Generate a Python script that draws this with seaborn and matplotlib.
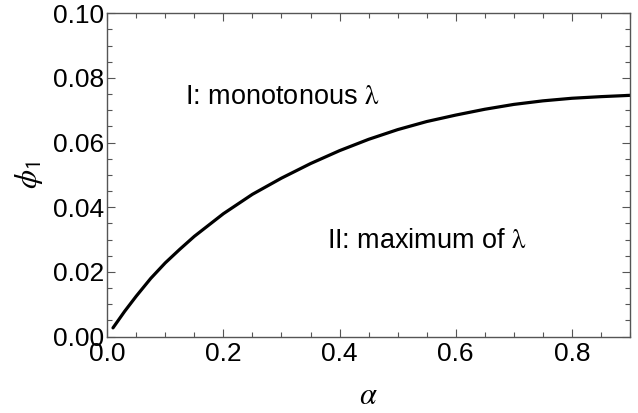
import matplotlib
matplotlib.use("Agg")
import matplotlib.pyplot as plt
import seaborn as sns
import pandas as pd
from matplotlib.ticker import MultipleLocator, FormatStrFormatter

alpha = [0.01, 0.03, 0.05, 0.075, 0.1, 0.125, 0.15, 0.2, 0.25, 0.3, 0.35, 0.4, 0.45, 0.5,
         0.55, 0.6, 0.65, 0.7, 0.75, 0.8, 0.85, 0.9]
phi1 = [0.0027, 0.0078, 0.0125, 0.018, 0.0228, 0.027, 0.031, 0.038, 0.044, 0.049,
        0.0535, 0.0575, 0.061, 0.064, 0.0665, 0.0685, 0.0703, 0.0718, 0.0729,
        0.0737, 0.0742, 0.0746]

sns.set_theme(style="ticks")
plt.rcParams['font.family'] = ['Liberation Sans', 'DejaVu Sans']
plt.rcParams['mathtext.fontset'] = 'stix'
plt.rcParams['text.color'] = 'black'
plt.rcParams['axes.labelcolor'] = 'black'

df = pd.DataFrame({"alpha": alpha, "phi1": phi1})

fig = plt.figure(figsize=(6.38, 4.13), dpi=100)
ax = fig.add_axes([0.168, 0.185, 0.8195, 0.783])
sns.lineplot(data=df, x="alpha", y="phi1", ax=ax, color="black", linewidth=2.3)

ax.set_xlim(0, 0.9)
ax.set_ylim(0, 0.10)
ax.xaxis.set_major_locator(MultipleLocator(0.2))
ax.xaxis.set_minor_locator(MultipleLocator(0.05))
ax.yaxis.set_major_locator(MultipleLocator(0.02))
ax.yaxis.set_minor_locator(MultipleLocator(0.005))
ax.xaxis.set_major_formatter(FormatStrFormatter('%.1f'))
ax.yaxis.set_major_formatter(FormatStrFormatter('%.2f'))

ax.tick_params(which='both', direction='in', top=True, right=True,
               color='#555555', width=0.8)
ax.tick_params(which='major', length=6, labelsize=19, labelcolor='black')
ax.tick_params(axis='y', which='major', pad=2)
ax.tick_params(axis='x', which='major', pad=4)
ax.tick_params(which='minor', length=3.5)
for s in ax.spines.values():
    s.set_visible(True)
    s.set_color('#555555')
    s.set_linewidth(1.0)

ax.set_xlabel(r'$\alpha$', fontsize=22, labelpad=11)
ax.set_ylabel(r'$\phi_\mathsf{1}$', fontsize=22, labelpad=6)

ax.text(0.302, 0.074, r'I: monotonous $\mathrm{\lambda}$', fontsize=19.5,
        ha='center', va='center')
ax.text(0.551, 0.0295, r'II: maximum of $\mathrm{\lambda}$', fontsize=19.5,
        ha='center', va='center')

fig.savefig("out.png", dpi=100)
